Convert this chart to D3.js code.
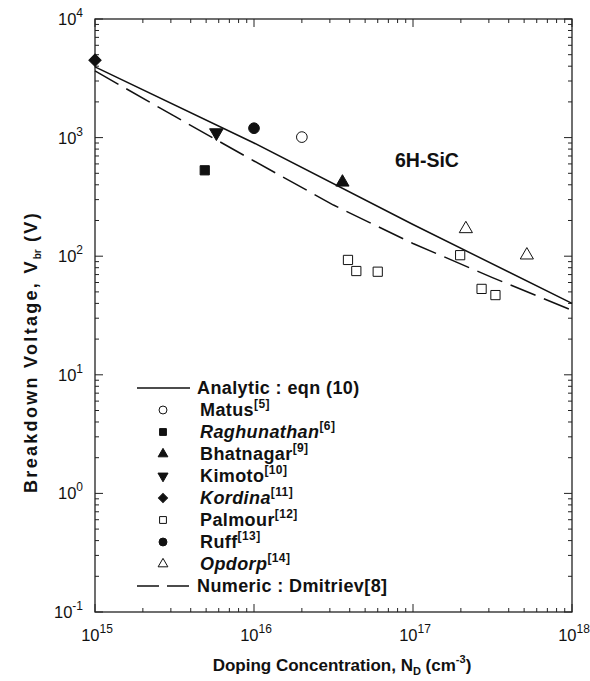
<!DOCTYPE html>
<html lang="en">
<head>
<meta charset="UTF-8">
<title>6H-SiC breakdown voltage</title>
<style>
  body { margin: 0; background: #fff; }
  text { font-family: "Liberation Sans", Arial, sans-serif; fill: #111; }
</style>
</head>
<body>
<script src="https://cdn.jsdelivr.net/npm/d3@7"></script>
<script>
var width = 590, height = 681,
    plotL = 95, plotT = 19, plotR = 572, plotB = 612;

// curves
var analyticN = [1e15, 1e16, 1e17, 1e18],
    analyticV = [3950, 900, 185, 40];
var numericN = [1e15, 3.16e15, 1e16, 3.16e16, 1e17, 3.16e17, 1e18],
    numericV = [3650, 1515, 635, 270, 128, 66, 35];

// measurements
var matus = [[2e16, 1010]],
    raghunathan = [[4.9e15, 530]],
    bhatnagar = [[3.6e16, 420]],
    kimoto = [[5.8e15, 1100]],
    kordina = [[1e15, 4500]],
    palmour = [[3.9e16, 93], [4.4e16, 75], [6e16, 74], [1.98e17, 102], [2.7e17, 53], [3.3e17, 47]],
    ruff = [[1e16, 1200]],
    opdorp = [[2.15e17, 170], [5.2e17, 102]];

var xDecades = [15, 16, 17, 18],
    yDecades = [-1, 0, 1, 2, 3, 4];

var x = d3.scaleLog().domain([1e15, 1e18]).range([plotL, plotR]);
var y = d3.scaleLog().domain([1e-1, 1e4]).range([plotB, plotT]);

var svg = d3.select("body").append("svg")
    .attr("width", width)
    .attr("height", height);

// frame
svg.append("rect")
    .attr("x", plotL).attr("y", plotT)
    .attr("width", plotR - plotL).attr("height", plotB - plotT)
    .attr("fill", "none").attr("stroke", "#222").attr("stroke-width", 1.3);

// ticks on all four sides, pointing inward
var xMinor = [], yMinor = [];
xDecades.slice(0, -1).forEach(function(e) {
  for (var k = 2; k < 10; k++) xMinor.push(k * Math.pow(10, e));
});
yDecades.slice(0, -1).forEach(function(e) {
  for (var k = 2; k < 10; k++) yMinor.push(k * Math.pow(10, e));
});

var ticks = svg.append("g").attr("stroke", "#222").attr("stroke-width", 1);
xDecades.forEach(function(e) {
  var px = x(Math.pow(10, e));
  ticks.append("line").attr("x1", px).attr("x2", px).attr("y1", plotB).attr("y2", plotB - 8);
  ticks.append("line").attr("x1", px).attr("x2", px).attr("y1", plotT).attr("y2", plotT + 8);
});
xMinor.forEach(function(v) {
  ticks.append("line").attr("x1", x(v)).attr("x2", x(v)).attr("y1", plotB).attr("y2", plotB - 4);
  ticks.append("line").attr("x1", x(v)).attr("x2", x(v)).attr("y1", plotT).attr("y2", plotT + 4);
});
yDecades.forEach(function(e) {
  var py = y(Math.pow(10, e));
  ticks.append("line").attr("x1", plotL).attr("x2", plotL + 8).attr("y1", py).attr("y2", py);
  ticks.append("line").attr("x1", plotR).attr("x2", plotR - 8).attr("y1", py).attr("y2", py);
});
yMinor.forEach(function(v) {
  ticks.append("line").attr("x1", plotL).attr("x2", plotL + 4).attr("y1", y(v)).attr("y2", y(v));
  ticks.append("line").attr("x1", plotR).attr("x2", plotR - 4).attr("y1", y(v)).attr("y2", y(v));
});

// tick labels 10^n
function powerLabel(sel, e) {
  sel.append("tspan").text("10");
  sel.append("tspan").attr("dy", -8).attr("font-size", 12).text(e);
}
xDecades.forEach(function(e) {
  var t = svg.append("text")
      .attr("x", x(Math.pow(10, e)) + 2).attr("y", 641)
      .attr("text-anchor", "middle").attr("font-size", 16.5);
  powerLabel(t, e);
});
yDecades.forEach(function(e) {
  var t = svg.append("text")
      .attr("x", 83).attr("y", y(Math.pow(10, e)) + 6)
      .attr("text-anchor", "end").attr("font-size", 16.5);
  powerLabel(t, e);
});

// axis titles
var xt = svg.append("text")
    .attr("x", 342).attr("y", 671)
    .attr("text-anchor", "middle").attr("font-size", 17).attr("font-weight", "bold");
xt.append("tspan").text("Doping Concentration, N");
xt.append("tspan").attr("dy", 4).attr("font-size", 11).text("D");
xt.append("tspan").attr("dy", -4).text(" (cm");
xt.append("tspan").attr("dy", -8).attr("font-size", 11).text("-3");
xt.append("tspan").attr("dy", 8).text(")");

var yt = svg.append("text")
    .attr("transform", "translate(37,352) rotate(-90)")
    .attr("text-anchor", "middle").attr("font-size", 18).attr("font-weight", "bold")
    .attr("letter-spacing", 2.3);
yt.append("tspan").text("Breakdown Voltage, V");
yt.append("tspan").attr("dy", 4).attr("font-size", 10).attr("letter-spacing", 0).text("br");
yt.append("tspan").attr("dy", -4).text(" (V)");

svg.append("text")
    .attr("x", 395).attr("y", 167)
    .attr("font-size", 19.5).attr("font-weight", "bold")
    .text("6H-SiC");

// curves
var line = d3.line()
    .x(function(d) { return x(d[0]); })
    .y(function(d) { return y(d[1]); });

svg.append("path")
    .attr("d", line(d3.zip(analyticN, analyticV)))
    .attr("fill", "none").attr("stroke", "#111").attr("stroke-width", 1.5);
svg.append("path")
    .attr("d", line(d3.zip(numericN, numericV)))
    .attr("fill", "none").attr("stroke", "#111").attr("stroke-width", 1.5)
    .attr("stroke-dasharray", "27,9");

// markers
var sym = {
  circle: d3.symbolCircle, square: d3.symbolSquare,
  triangle: d3.symbolTriangle, down: d3.symbolTriangle, diamond: d3.symbolSquare
};
function marker(g, type, filled, size, px, py) {
  var tr = "translate(" + px + "," + py + ")";
  if (type === "down") tr += " rotate(180)";
  if (type === "diamond") tr += " rotate(45)";
  g.append("path")
      .attr("d", d3.symbol().type(sym[type]).size(size)())
      .attr("transform", tr)
      .attr("fill", filled ? "#111" : "#fff")
      .attr("stroke", "#111").attr("stroke-width", 1);
}

var series = [
  {name: "Matus", ref: "[5]", italic: false, type: "circle", filled: false, data: matus},
  {name: "Raghunathan", ref: "[6]", italic: true, type: "square", filled: true, data: raghunathan},
  {name: "Bhatnagar", ref: "[9]", italic: false, type: "triangle", filled: true, data: bhatnagar},
  {name: "Kimoto", ref: "[10]", italic: false, type: "down", filled: true, data: kimoto},
  {name: "Kordina", ref: "[11]", italic: true, type: "diamond", filled: true, data: kordina},
  {name: "Palmour", ref: "[12]", italic: false, type: "square", filled: false, data: palmour},
  {name: "Ruff", ref: "[13]", italic: false, type: "circle", filled: true, data: ruff},
  {name: "Opdorp", ref: "[14]", italic: true, type: "triangle", filled: false, data: opdorp}
];

var sizes = {circle: 90, square: 85, triangle: 75, down: 80, diamond: 75};
var pts = svg.append("g");
series.forEach(function(s) {
  s.data.forEach(function(d) {
    marker(pts, s.type, s.filled, sizes[s.type], x(d[0]), y(d[1]));
  });
});

// legend
var lg = svg.append("g");
var rowY0 = 388, rowH = 22, textX = 197, symX = 163, fs = 18;

lg.append("line").attr("x1", 137).attr("x2", 190).attr("y1", rowY0).attr("y2", rowY0)
    .attr("stroke", "#111").attr("stroke-width", 1.5);
lg.append("text").attr("x", textX).attr("y", rowY0 + 6)
    .attr("font-size", fs).attr("font-weight", "bold").attr("letter-spacing", 0.4)
    .text("Analytic : eqn (10)");

series.forEach(function(s, i) {
  var ry = rowY0 + rowH * (i + 1);
  marker(lg, s.type, s.filled, sizes[s.type] * 0.55, symX, ry);
  var t = lg.append("text").attr("x", textX + 3).attr("y", ry + 6)
      .attr("font-size", fs).attr("font-weight", "bold").attr("letter-spacing", 0.4)
      .attr("font-style", s.italic ? "italic" : "normal");
  t.append("tspan").text(s.name);
  t.append("tspan").attr("dy", -8).attr("font-size", 12).attr("font-style", "normal").text(s.ref);
});

var ny = rowY0 + rowH * (series.length + 1);
lg.append("line").attr("x1", 137).attr("x2", 190).attr("y1", ny).attr("y2", ny)
    .attr("stroke", "#111").attr("stroke-width", 1.5).attr("stroke-dasharray", "22,8");
lg.append("text").attr("x", textX).attr("y", ny + 6)
    .attr("font-size", fs).attr("font-weight", "bold").attr("letter-spacing", 0.4)
    .text("Numeric : Dmitriev[8]");
</script>
</body>
</html>
